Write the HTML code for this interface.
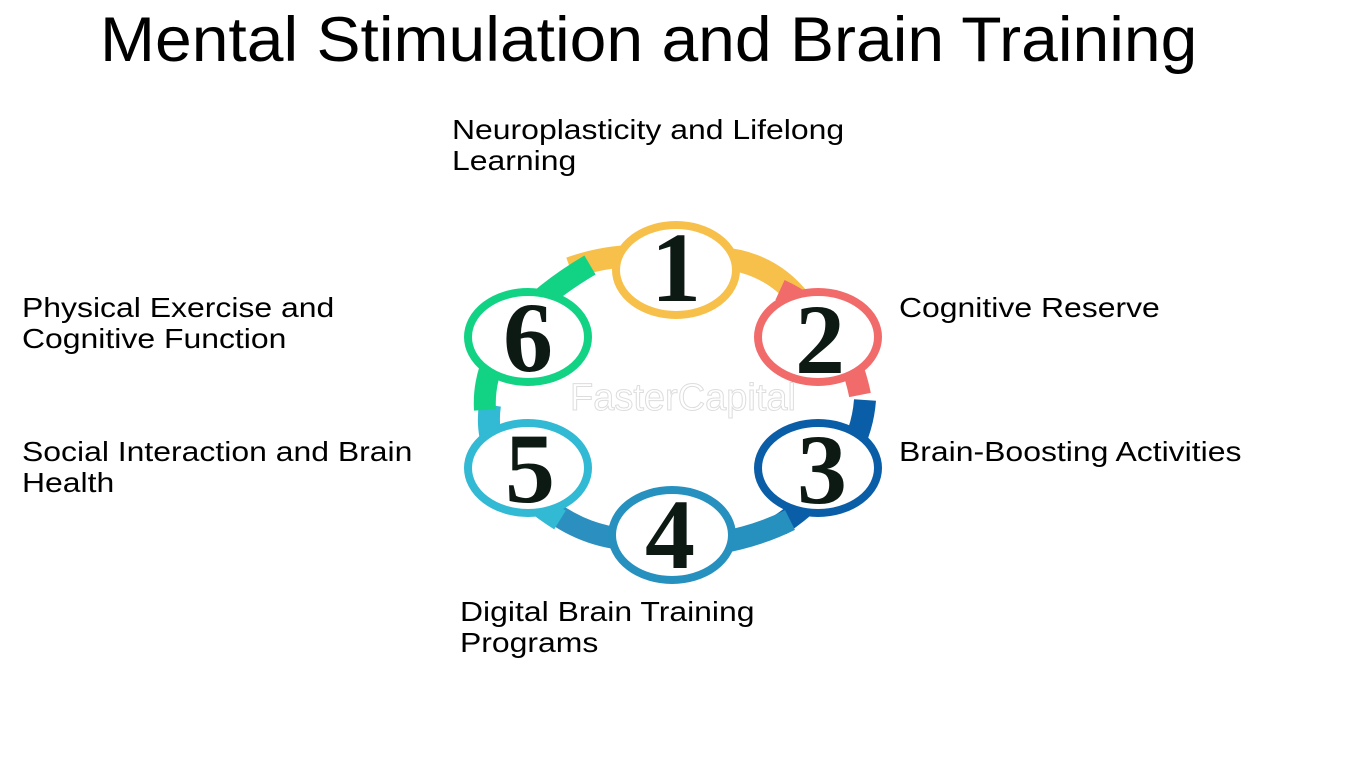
<!DOCTYPE html>
<html><head><meta charset="utf-8"><style>
body{margin:0;width:1350px;height:759px;background:#fff;overflow:hidden;position:relative;font-family:"Liberation Sans",sans-serif;}
.t{position:absolute;color:#000;font-size:28px;line-height:31px;transform:scaleX(1.14);transform-origin:0 0;white-space:nowrap;}
h1{position:absolute;left:100px;top:4px;margin:0;font-weight:normal;font-size:63px;line-height:72px;transform:scaleX(1.048);transform-origin:0 0;white-space:nowrap;}
</style></head><body>
<h1>Mental Stimulation and Brain Training</h1>
<div class="t" style="left:452px;top:114px">Neuroplasticity and Lifelong<br>Learning</div>
<div class="t" style="left:899px;top:292px">Cognitive Reserve</div>
<div class="t" style="left:899px;top:436px">Brain-Boosting Activities</div>
<div class="t" style="left:460px;top:596px">Digital Brain Training<br>Programs</div>
<div class="t" style="left:22px;top:292px">Physical Exercise and<br>Cognitive Function</div>
<div class="t" style="left:22px;top:436px">Social Interaction and Brain<br>Health</div>
<svg width="1350" height="759" style="position:absolute;left:0;top:0">
<g fill="none" stroke-width="22">
<path d="M570 268 Q620 250 676 258" stroke="#f7c04a"/>
<path d="M720 258 Q770 262 800 300" stroke="#f7c04a"/>
<path d="M780 290 Q845 320 860 395" stroke="#f26b6b"/>
<path d="M865 400 Q860 470 780 525" stroke="#0a5ea8"/>
<path d="M790 520 Q740 545 672 548" stroke="#2690bf"/>
<path d="M640 540 Q590 540 550 510" stroke="#2b8fbf"/>
<path d="M560 520 Q480 470 490 405" stroke="#32b9d3"/>
<path d="M485 410 Q480 330 590 265" stroke="#12d383"/>
</g>
<g stroke-width="8" fill="#fff">
<ellipse cx="676" cy="270" rx="60" ry="45" stroke="#f7c04a"/>
<ellipse cx="818" cy="337" rx="60" ry="45" stroke="#f26b6b"/>
<ellipse cx="818" cy="468" rx="60" ry="45" stroke="#0a5ea8"/>
<ellipse cx="672" cy="535" rx="60" ry="45" stroke="#2690bf"/>
<ellipse cx="528" cy="468" rx="60" ry="45" stroke="#32b9d3"/>
<ellipse cx="528" cy="337" rx="60" ry="45" stroke="#12d383"/>
</g>
<g font-family="Liberation Serif,serif" font-weight="bold" font-size="100" fill="#0d1a14" text-anchor="middle">
<text x="676" y="301">1</text><text x="820" y="373">2</text><text x="822" y="503">3</text>
<text x="670" y="568">4</text><text x="530" y="502">5</text><text x="528" y="371">6</text>
</g>
<text x="570" y="410" font-size="38" fill="none" stroke="#ddd" stroke-width="1" font-family="Liberation Sans,sans-serif">FasterCapital</text>
</svg>
</body></html>
